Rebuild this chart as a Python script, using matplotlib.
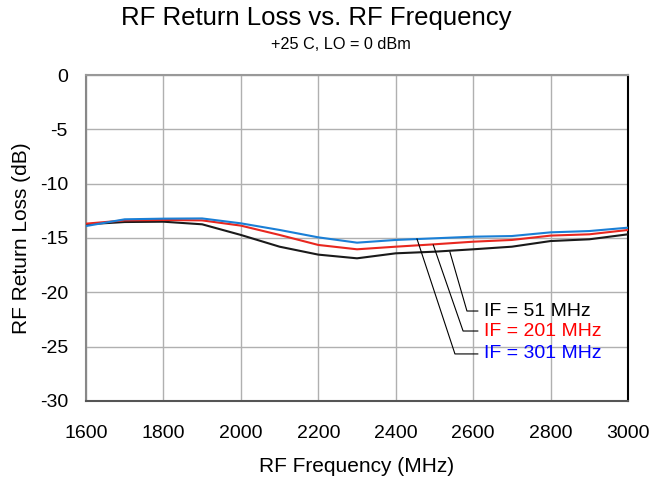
import matplotlib
matplotlib.use('Agg')
import matplotlib.pyplot as plt

plt.rcParams['font.family'] = ['Liberation Sans', 'DejaVu Sans']
plt.rcParams['axes.unicode_minus'] = False

# RF frequency (MHz) and return loss (dB)
freq = [1600, 1700, 1800, 1900, 2000, 2100, 2200, 2300,
        2400, 2500, 2600, 2700, 2800, 2900, 3000]
if51 = [-13.74, -13.53, -13.50, -13.74, -14.72, -15.80, -16.53, -16.87,
        -16.41, -16.26, -16.04, -15.80, -15.28, -15.12, -14.66]
if201 = [-13.68, -13.38, -13.34, -13.38, -13.86, -14.72, -15.64, -16.04,
         -15.80, -15.58, -15.34, -15.18, -14.78, -14.66, -14.26]
if301 = [-13.90, -13.28, -13.22, -13.20, -13.65, -14.26, -14.94, -15.43,
         -15.18, -15.03, -14.88, -14.82, -14.48, -14.36, -14.05]

labels = ['IF = 51 MHz', 'IF = 201 MHz', 'IF = 301 MHz']
line_colors = ['#1a1a1a', '#e8271f', '#1a7fd6']
text_colors = ['#000000', '#ff0000', '#0000ff']

# leader lines: (point on curve, knee)
leaders = [
  ((2540, -16.29), (2584, -21.72)),
  ((2497, -15.64), (2574, -23.56)),
  ((2455, -15.09), (2553, -25.67)),
]

fig = plt.figure(figsize=(6.52, 4.83), dpi=100)
ax = fig.add_axes([0.1319, 0.1698, 0.8313, 0.6749])

for series, c in zip([if51, if201, if301], line_colors):
  ax.plot(freq, series, color=c, lw=1.5, zorder=3)

for (pt, knee), lab, tc in zip(leaders, labels, text_colors):
  ax.plot([pt[0], knee[0], 2612], [pt[1], knee[1], knee[1]],
          color='black', lw=0.8, zorder=4)
  ax.text(2628, knee[1], lab, color=tc, fontsize=14, va='center', ha='left')

ax.set_xlim(1600, 3000)
ax.set_ylim(-30, 0)
ax.set_xticks(range(1600, 3001, 200))
ax.set_yticks(range(-30, 1, 5))
ax.grid(True, color='#b0b0b0', lw=1)
ax.set_axisbelow(True)
ax.tick_params(axis='both', length=0, labelsize=14)
ax.tick_params(axis='x', pad=17)
ax.tick_params(axis='y', pad=13)

ax.spines['left'].set_color('#888888')
ax.spines['top'].set_color('#999999')
ax.spines['bottom'].set_color('#555555')
ax.spines['right'].set_color('#000000')
for s in ax.spines.values():
  s.set_linewidth(1.5)

ax.set_xlabel('RF Frequency (MHz)', fontsize=15, labelpad=11)
ax.set_ylabel('RF Return Loss (dB)', fontsize=15, labelpad=6)

fig.text(0.485, 0.963, 'RF Return Loss vs. RF Frequency', fontsize=18.5,
         ha='center', va='center')
fig.text(0.523, 0.907, '+25 C, LO = 0 dBm', fontsize=11.7,
         ha='center', va='center')

fig.savefig('out.png', dpi=100)
